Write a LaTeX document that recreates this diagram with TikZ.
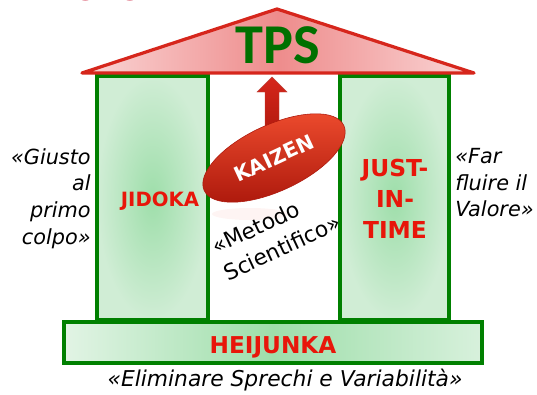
\documentclass[tikz,border=0pt]{standalone}
\usepackage{fontspec}
\setmainfont{DejaVu Sans}
\newfontfamily\tpsfont{Carlito}
\usetikzlibrary{shapes.geometric}

\definecolor{roofred}{RGB}{214,38,28}
\definecolor{roofpink}{RGB}{238,140,140}
\definecolor{roofpale}{RGB}{250,214,214}
\definecolor{tpsgreen}{RGB}{0,112,0}
\definecolor{pillargreen}{RGB}{0,128,0}
\definecolor{pillarin}{RGB}{158,222,170}
\definecolor{pillarout}{RGB}{208,237,213}
\definecolor{basepale}{RGB}{226,244,229}
\definecolor{labelred}{RGB}{232,22,10}
\definecolor{kaizenlight}{RGB}{238,76,46}
\definecolor{kaizendark}{RGB}{172,24,12}
\definecolor{titlered}{RGB}{200,16,46}

\begin{document}
\begin{tikzpicture}[x=0.025cm, y=-0.025cm, every node/.style={inner sep=0pt},
    pillar/.style={draw=pillargreen, line width=2.3pt, inner color=pillarin, outer color=pillarout},
    pillarlabel/.style={text=labelred, font=\bfseries\fontsize{14}{16}\selectfont},
    motto/.style={font=\itshape\fontsize{14.8}{19}\selectfont}]
  \useasboundingbox (0,0) rectangle (537,394);
  \node (title) [anchor=base, text=titlered, font=\bfseries\fontsize{21}{24}\selectfont] at (118,0.5) {TOYOTA};

  % pillars and base
  \path[pillar] (97,76) rectangle (208,320);
  \path[pillar] (340,76) rectangle (449,320);
  \path[draw=pillargreen, line width=2.3pt, left color=basepale, right color=basepale!85!pillarin, middle color=pillarin]
    (64,322) rectangle (482,363);

  % roof
  \path[draw=roofred, line width=2.3pt, line join=round, left color=roofpale, right color=roofpale, middle color=roofpink]
    (82,73) -- (277,9) -- (474,73) -- cycle;
  \node (tps) [anchor=base, text=tpsgreen, font=\tpsfont\bfseries\fontsize{40}{44}\selectfont] at (278,64) {TPS};

  % arrow up to the roof
  \path[top color=roofred, bottom color=kaizendark, draw=kaizendark!80, line width=0.3pt]
    (265,140) -- (265,92) -- (257,92) -- (272,77) -- (287,92) -- (279,92) -- (279,140) -- cycle;

  % kaizen
  \fill[kaizenlight, opacity=0.06] (250,214) ellipse [x radius=38, y radius=6];
  \node (kaizen) [ellipse, rotate=25, minimum width=3.85cm, minimum height=1.65cm, draw=kaizendark, line width=0.4pt,
    top color=kaizenlight, bottom color=kaizendark, text=white, font=\bfseries\fontsize{14.5}{16}\selectfont]
    at (274,158) {KAIZEN};
  \node (metodo) [rotate=25, align=left, font=\fontsize{15.5}{21}\selectfont] at (276,234) {«Metodo\\Scientifico»};

  \node (jidoka) [pillarlabel, anchor=base] at (160,206) {JIDOKA};
  \node (jit) [pillarlabel, align=center, anchor=north, font=\bfseries\fontsize{16.6}{22}\selectfont] at (395,159) {JUST-\\IN-\\TIME};
  \node (heijunka) [pillarlabel, anchor=base, font=\bfseries\fontsize{16.5}{18}\selectfont] at (273,353) {HEIJUNKA};

  % mottos
  \node (giusto) [motto, align=right, anchor=north east] at (91,148) {«Giusto\\al\\primo\\colpo»};
  \node (far) [motto, align=left, anchor=north west] at (455,148) {«Far\\fluire il\\Valore»};
  \node (sprechi) [motto, anchor=base, font=\itshape\fontsize{15.5}{19}\selectfont] at (285,386) {«Eliminare Sprechi e Variabilità»};
\end{tikzpicture}
\end{document}
